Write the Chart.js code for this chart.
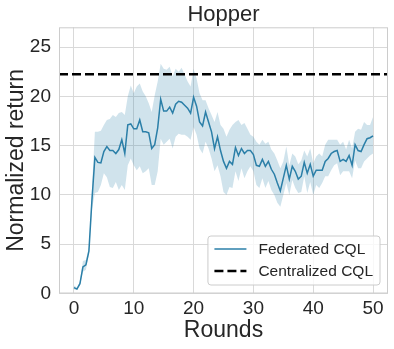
<!DOCTYPE html>
<html>
<head>
<meta charset="utf-8">
<script src="https://cdn.jsdelivr.net/npm/chart.js@4.4.1/dist/chart.umd.min.js"></script>
<style>
  html, body { margin: 0; padding: 0; background: #fff; }
  canvas { display: block; }
</style>
</head>
<body>
<canvas id="chart" width="394" height="349"></canvas>
<script>
// rounds are sampled every half round
const rounds = [
  0, 0.5, 1, 1.5, 2, 2.5, 3, 3.5, 4, 4.5,
  5, 5.5, 6, 6.5, 7, 7.5, 8, 8.5, 9, 9.5,
  10, 10.5, 11, 11.5, 12, 12.5, 13, 13.5, 14, 14.5,
  15, 15.5, 16, 16.5, 17, 17.5, 18, 18.5, 19, 19.5,
  20, 20.5, 21, 21.5, 22, 22.5, 23, 23.5, 24, 24.5,
  25, 25.5, 26, 26.5, 27, 27.5, 28, 28.5, 29, 29.5,
  30, 30.5, 31, 31.5, 32, 32.5, 33, 33.5, 34, 34.5,
  35, 35.5, 36, 36.5, 37, 37.5, 38, 38.5, 39, 39.5,
  40, 40.5, 41, 41.5, 42, 42.5, 43, 43.5, 44, 44.5,
  45, 45.5, 46, 46.5, 47, 47.5, 48, 48.5, 49, 49.5,
  50
];

const fedMean = [
  0.6, 0.45, 1.0, 2.7, 2.9, 4.3, 9.4, 13.8, 13.3, 13.25,
  14.4, 14.9, 14.5, 14.5, 14.2, 14.6, 15.6, 14.2, 17.1, 17.2,
  16.7, 16.7, 17.6, 16.4, 16.4, 16.3, 14.7, 15.1, 16.8, 19.7,
  18.5, 18.5, 18.9, 18.3, 19.2, 19.5, 19.4, 19.1, 18.8, 18.3,
  19.9, 19.0, 17.4, 17.0, 18.4, 17.4, 16.4, 14.7, 15.9, 14.5,
  13.4, 12.7, 13.4, 13.1, 14.8, 14.0, 14.7, 14.2, 14.5, 14.5,
  14.1, 13.0, 12.9, 13.6, 12.9, 13.4, 12.6, 12.1, 11.2, 10.4,
  11.7, 13.0, 11.6, 12.9, 12.4, 11.6, 11.9, 13.3, 12.2, 13.1,
  11.9, 12.5, 12.5, 12.5, 13.4, 13.7, 14.2, 14.4, 14.5, 13.4,
  13.6, 13.4, 14.0, 13.0, 15.1, 14.5, 14.4, 15.1, 15.7, 15.8,
  16.0
];

const fedUpper = [
  0.8, 0.6, 1.2, 3.3, 3.4, 4.7, 10.5, 16.4, 16.4, 16.5,
  17.1, 17.6, 17.7, 18.1, 17.9, 18.3, 18.4, 18.1, 20.0, 21.1,
  20.3, 21.0, 21.3, 20.5, 20.0, 19.3, 18.4, 20.1, 21.5, 23.3,
  22.8, 22.7, 23.0, 22.0, 22.8, 22.5, 22.9, 22.2, 21.5, 21.0,
  22.8, 21.8, 20.3, 19.6, 19.6, 18.8, 18.1, 17.4, 18.4, 17.1,
  16.7, 15.9, 16.6, 17.1, 17.4, 17.6, 17.1, 17.3, 16.7, 16.1,
  15.9, 15.4, 15.1, 15.6, 15.2, 15.4, 14.6, 14.2, 13.5, 12.7,
  13.4, 14.9, 13.0, 14.2, 13.9, 13.1, 13.5, 14.5, 13.9, 14.7,
  13.2, 13.9, 14.2, 13.9, 15.1, 15.6, 15.6, 15.6, 15.6, 15.1,
  15.4, 14.6, 15.6, 14.7, 16.4, 16.7, 16.6, 17.4, 17.1, 17.1,
  17.9
];

const fedLower = [
  0.4, 0.35, 0.8, 2.2, 2.4, 4.0, 8.5, 10.2, 10.3, 11.0,
  12.2, 11.8, 10.8, 10.7, 11.3, 10.5, 11.0, 10.5, 13.0, 13.7,
  13.0, 12.5, 12.9, 12.2, 12.4, 12.7, 11.0, 11.0, 12.4, 15.7,
  15.1, 15.4, 15.7, 14.7, 15.9, 16.2, 16.1, 16.1, 15.9, 15.6,
  16.9, 16.1, 14.7, 14.2, 15.4, 14.7, 13.7, 12.4, 13.0, 11.9,
  10.3, 10.0, 10.8, 10.7, 12.4, 11.4, 12.7, 11.7, 12.4, 12.9,
  12.4, 11.0, 10.7, 11.7, 10.7, 11.4, 10.5, 10.0, 9.2, 8.8,
  10.0, 11.2, 10.0, 11.5, 10.7, 10.2, 10.3, 11.9, 10.2, 11.3,
  10.0, 11.0, 10.7, 11.2, 11.9, 11.9, 12.5, 13.0, 13.2, 12.0,
  12.4, 12.4, 12.4, 11.7, 13.5, 12.7, 12.7, 13.4, 13.7, 14.0,
  14.2
];

const centralizedCQL = 22.25;
const xRange = [-2.5, 52.5];
const yRange = [0, 27];

const FONT = "'Liberation Sans', Arial, sans-serif";
const TEXT = '#262626';
const LINE = '#2b7fa8';

const toPoints = (ys) => rounds.map((x, i) => ({ x: x, y: ys[i] }));

// light grey box around the whole plot area (seaborn style spines)
const frame = {
  id: 'frame',
  afterDatasetsDraw(chart) {
    const { ctx, chartArea: a } = chart;
    ctx.save();
    ctx.strokeStyle = '#cccccc';
    ctx.lineWidth = 1;
    ctx.strokeRect(a.left + 0.5, a.top + 0.5, a.right - a.left - 1, a.bottom - a.top - 1);
    ctx.restore();
  }
};

// matplotlib-like legend in the lower right corner of the plot
const legendBox = {
  id: 'legendBox',
  afterDatasetsDraw(chart) {
    const { ctx, chartArea } = chart;
    const items = chart.data.datasets.filter(d => d.label);
    ctx.save();
    ctx.font = '15.5px ' + FONT;
    const textW = Math.max(...items.map(d => ctx.measureText(d.label).width));
    const rowH = 22, lineLen = 32;
    const w = 6.5 + lineLen + 12 + textW + 7;
    const h = 13 + rowH * (items.length - 1) + 14;
    const x = chartArea.right - 8 - w;
    const y = chartArea.bottom - 8.5 - h;

    ctx.beginPath();
    ctx.roundRect(x, y, w, h, 3);
    ctx.fillStyle = 'rgba(255,255,255,0.8)';
    ctx.fill();
    ctx.strokeStyle = '#cccccc';
    ctx.lineWidth = 1;
    ctx.stroke();

    items.forEach((d, i) => {
      const cy = y + 13 + i * rowH;
      ctx.beginPath();
      ctx.setLineDash(d.borderDash || []);
      ctx.strokeStyle = d.borderColor;
      ctx.lineWidth = d.borderWidth;
      ctx.moveTo(x + 6.5, cy);
      ctx.lineTo(x + 6.5 + lineLen, cy);
      ctx.stroke();
      ctx.setLineDash([]);
      ctx.fillStyle = TEXT;
      ctx.textBaseline = 'middle';
      ctx.textAlign = 'left';
      ctx.fillText(d.label, x + 6.5 + lineLen + 12, cy + 1);
    });
    ctx.restore();
  }
};

new Chart(document.getElementById('chart').getContext('2d'), {
  type: 'line',
  data: {
    datasets: [
      {
        label: 'Federated CQL',
        data: toPoints(fedMean),
        borderColor: LINE,
        borderWidth: 1.5,
        pointRadius: 0,
        tension: 0,
        fill: false
      },
      {
        label: 'Centralized CQL',
        data: [{ x: xRange[0], y: centralizedCQL }, { x: xRange[1], y: centralizedCQL }],
        borderColor: '#000000',
        borderWidth: 2.5,
        borderDash: [9, 4],
        pointRadius: 0,
        fill: false
      },
      {
        data: toPoints(fedUpper),
        borderWidth: 0,
        borderColor: 'rgba(0,0,0,0)',
        backgroundColor: 'rgba(43,127,168,0.22)',
        pointRadius: 0,
        tension: 0,
        fill: '+1'
      },
      {
        data: toPoints(fedLower),
        borderWidth: 0,
        borderColor: 'rgba(0,0,0,0)',
        pointRadius: 0,
        tension: 0,
        fill: false
      }
    ]
  },
  options: {
    responsive: false,
    animation: false,
    devicePixelRatio: 1,
    layout: { padding: { left: 0, right: 6, top: 0, bottom: 0 } },
    plugins: {
      legend: { display: false },
      tooltip: { enabled: false },
      title: {
        display: true,
        text: 'Hopper',
        fullSize: false,
        color: TEXT,
        font: { family: FONT, size: 22, weight: 'normal', lineHeight: 1.15 },
        padding: { top: 2, bottom: 0 }
      }
    },
    scales: {
      x: {
        type: 'linear',
        min: xRange[0],
        max: xRange[1],
        grid: { color: '#d9d9d9', lineWidth: 1, drawTicks: false },
        border: { display: false },
        ticks: {
          stepSize: 10,
          includeBounds: false,
          padding: 4,
          color: TEXT,
          font: { family: FONT, size: 19 },
          maxRotation: 0
        },
        title: {
          display: true,
          text: 'Rounds',
          color: TEXT,
          font: { family: FONT, size: 23 },
          padding: { top: 0, bottom: 5 }
        },
        afterFit(scale) { scale.height = 55.5; }
      },
      y: {
        type: 'linear',
        min: yRange[0],
        max: yRange[1],
        grid: { color: '#d9d9d9', lineWidth: 1, drawTicks: false },
        border: { display: false },
        ticks: {
          stepSize: 5,
          includeBounds: false,
          padding: 8,
          color: TEXT,
          font: { family: FONT, size: 19 }
        },
        title: {
          display: true,
          text: 'Normalized return',
          color: TEXT,
          font: { family: FONT, size: 23 },
          padding: { top: 3, bottom: 0 }
        },
        afterFit(scale) { scale.width = 59; }
      }
    }
  },
  plugins: [frame, legendBox]
});
</script>
</body>
</html>
